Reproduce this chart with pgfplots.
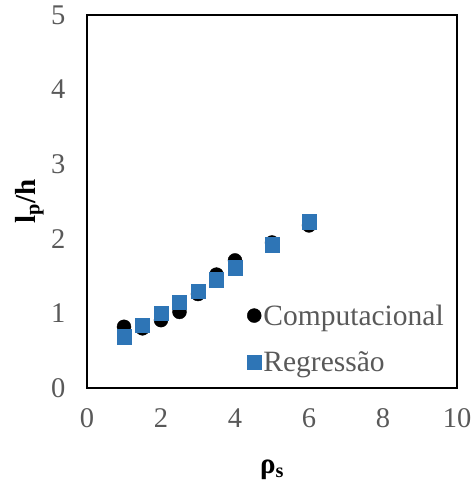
\documentclass[border=0pt]{standalone}
\usepackage{fontspec}
\setmainfont{Liberation Serif}
\usepackage{pgfplots}
\pgfplotsset{compat=1.18}
\definecolor{tickgray}{HTML}{595959}
\definecolor{regblue}{RGB}{46,117,182}

\begin{document}
\begin{tikzpicture}
\path[use as bounding box] (-87pt,-97pt) rectangle (385pt,388pt);
\begin{axis}[
  scale only axis,
  width=370pt, height=373pt,
  xmin=0, xmax=10, ymin=0, ymax=5,
  xtick={0,2,...,10}, ytick={0,1,...,5},
  major tick length=0pt,
  axis line style={line width=1.3pt, black},
  /pgf/number format/assume math mode=true,
  tick label style={font=\fontsize{28.5}{32}\selectfont, text=tickgray},
  xticklabel style={yshift=-17pt},
  yticklabel style={xshift=-18pt},
  xlabel={\textbf{ρ\textsubscript{s}}},
  ylabel={\textbf{l\textsubscript{p}/h}},
  label style={font=\fontsize{29}{32}\selectfont},
  xlabel style={at={(axis description cs:0.5,-0.22)}, anchor=center},
  ylabel style={at={(axis description cs:-0.155,0.5)}, anchor=center},
  legend style={at={(axis cs:4.32,0.66)}, anchor=west, draw=none, fill=none,
    font=\fontsize{29.5}{32}\selectfont, text=tickgray,
    row sep=21pt, inner sep=0pt,
    /tikz/every even column/.append style={column sep=7pt}},
  legend cell align=left,
  clip=false,
]
\addplot[only marks, mark=*, mark size=7pt, mark options={fill=black, draw=black}]
  coordinates {(1,0.82) (1.5,0.80) (2,0.91) (2.5,1.02) (3,1.26) (3.5,1.52) (4,1.71) (5,1.95) (6,2.18)};
\addlegendentry{Computacional}
\addplot[only marks, mark=square*, mark size=7.2pt, mark options={fill=regblue, draw=regblue}]
  coordinates {(1,0.69) (1.5,0.84) (2,1.00) (2.5,1.15) (3,1.30) (3.5,1.45) (4,1.61) (5,1.92) (6,2.23)};
\addlegendentry{Regressão}
\end{axis}
\end{tikzpicture}
\end{document}
